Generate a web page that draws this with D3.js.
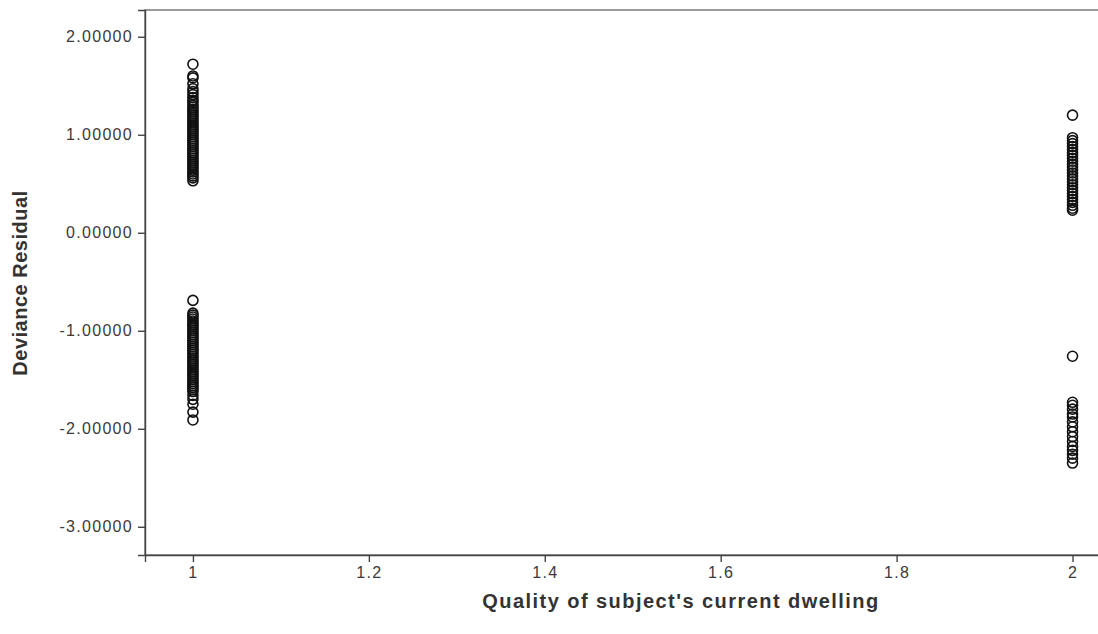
<!DOCTYPE html>
<html>
<head>
<meta charset="utf-8">
<script src="https://cdn.jsdelivr.net/npm/d3@7"></script>
<style>
  body { margin: 0; background: #fff; }
  svg { display: block; }
  .tick text { font-family: Arial, "Liberation Sans", sans-serif; font-size: 16px; letter-spacing: 1.3px; fill: #3a3a3a; }
  .axis-title { font-family: Arial, "Liberation Sans", sans-serif; font-size: 20px; font-weight: bold; letter-spacing: 1.45px; fill: #333; }
</style>
</head>
<body>
<svg id="chart" width="1098" height="634"></svg>
<script>
// Residuals, grouped by dwelling quality
const residualsAt1 = [
  1.72, 1.60, 1.58, 1.52, 1.47, 1.44, 1.41, 1.38, 1.35, 1.33, 1.30, 1.28, 1.26, 1.24,
  1.22, 1.20, 1.18, 1.16, 1.14, 1.12, 1.10, 1.08, 1.06, 1.04, 1.02, 1.00, 0.98, 0.96,
  0.94, 0.92, 0.90, 0.88, 0.86, 0.84, 0.82, 0.80, 0.78, 0.76, 0.74, 0.72, 0.70, 0.68,
  0.66, 0.64, 0.62, 0.60, 0.58, 0.56, 0.53,
  -0.69, -0.82, -0.84, -0.86, -0.88, -0.90, -0.92, -0.94, -0.96, -0.98, -1.00, -1.02,
  -1.04, -1.06, -1.08, -1.10, -1.12, -1.14, -1.16, -1.18, -1.20, -1.22, -1.24, -1.26,
  -1.28, -1.30, -1.32, -1.34, -1.36, -1.38, -1.40, -1.42, -1.44, -1.46, -1.48, -1.50,
  -1.52, -1.54, -1.56, -1.58, -1.60, -1.62, -1.66, -1.70, -1.75, -1.83, -1.91
];
const residualsAt2 = [
  1.20, 0.97, 0.94, 0.91, 0.88, 0.85, 0.82, 0.79, 0.76, 0.73, 0.70, 0.67, 0.64, 0.61,
  0.58, 0.55, 0.52, 0.49, 0.46, 0.43, 0.40, 0.37, 0.34, 0.31, 0.28, 0.25, 0.23,
  -1.26, -1.73, -1.76, -1.80, -1.85, -1.88, -1.93, -1.98, -2.03, -2.08, -2.13, -2.18,
  -2.22, -2.26, -2.30, -2.35
];
const xTicks = [1, 1.2, 1.4, 1.6, 1.8, 2];
const yTicks = [2, 1, 0, -1, -2, -3];

const points = residualsAt1.map(v => ({ x: 1, y: v }))
  .concat(residualsAt2.map(v => ({ x: 2, y: v })));

const svg = d3.select("#chart");
const plotLeft = 145, plotRight = 1110, plotTop = 10, plotBottom = 555;

const x = d3.scaleLinear().domain([0.9455, 2.0426]).range([plotLeft, plotRight]);
const y = d3.scaleLinear().domain([-3.288, 2.273]).range([plotBottom, plotTop]);

// plot frame (right edge runs off the page as in the scan)
svg.append("rect")
  .attr("x", plotLeft).attr("y", plotTop)
  .attr("width", plotRight - plotLeft).attr("height", plotBottom - plotTop)
  .attr("fill", "none").attr("stroke", "#666").attr("stroke-width", 1.3);

// plain hyphen for negatives, like the original
const fmt5 = d => d3.format(".5f")(d).replace("\u2212", "-");

const yAxis = svg.append("g")
  .attr("transform", `translate(${plotLeft},0)`)
  .call(d3.axisLeft(y).tickValues(yTicks).tickFormat(fmt5).tickSize(7).tickPadding(5));

const xAxis = svg.append("g")
  .attr("transform", `translate(0,${plotBottom})`)
  .call(d3.axisBottom(x).tickValues(xTicks).tickFormat(d => String(d)).tickSize(7).tickPadding(5));

[yAxis, xAxis].forEach(a => {
  a.select(".domain").attr("stroke", "#444").attr("stroke-width", 1.4);
  a.selectAll(".tick line").attr("stroke", "#444").attr("stroke-width", 1.4);
});

svg.append("g").selectAll("circle")
  .data(points)
  .enter().append("circle")
  .attr("cx", d => x(d.x))
  .attr("cy", d => y(d.y))
  .attr("r", 5)
  .attr("fill", "none")
  .attr("stroke", "#111")
  .attr("stroke-width", 1.6);

svg.append("text")
  .attr("class", "axis-title")
  .attr("x", 681).attr("y", 608)
  .attr("text-anchor", "middle")
  .text("Quality of subject's current dwelling");

svg.append("text")
  .attr("class", "axis-title")
  .attr("transform", "translate(27,283) rotate(-90)")
  .attr("text-anchor", "middle")
  .style("letter-spacing", "0.5px")
  .text("Deviance Residual");
</script>
</body>
</html>
